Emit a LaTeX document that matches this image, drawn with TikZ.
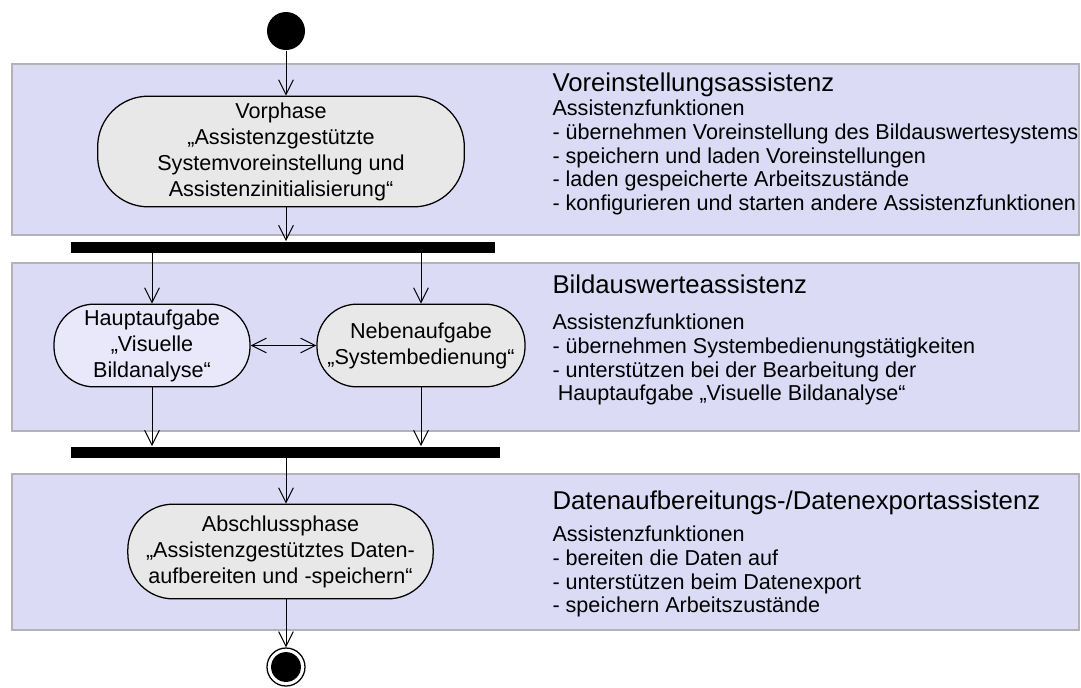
\documentclass[tikz,border=0pt]{standalone}
\usepackage{fontspec}
\setmainfont{Liberation Sans}
\usetikzlibrary{arrows.meta}
\definecolor{lanefill}{RGB}{219,219,246}
\definecolor{laneline}{RGB}{178,178,184}
\definecolor{actfill}{RGB}{232,232,232}
\definecolor{mainfill}{RGB}{232,232,250}
\tikzset{>={Straight Barb[length=11pt,width=11pt]},
  lane/.style={draw=laneline,fill=lanefill,line width=1.1pt,minimum width=800.25pt,inner sep=0},
  act/.style={draw,line width=0.95pt,fill=actfill,align=center,inner sep=0,font=\fontsize{16.2pt}{19.5pt}\selectfont},
  bar/.style={fill=black,inner sep=0,minimum height=8.25pt},
  ttl/.style={anchor=base west,inner sep=0,font=\fontsize{19.3pt}{23pt}\selectfont},
  lst/.style={anchor=north west,align=left,inner sep=0,font=\fontsize{16.2pt}{17.8pt}\selectfont},
  init/.style={circle,fill,inner sep=0,minimum size=28.5pt},
  final/.style={circle,draw,line width=0.95pt,inner sep=0,minimum size=28.5pt,
    path picture={\fill (path picture bounding box.center) circle (11.2pt);}}}

\begin{document}
\begin{tikzpicture}[x=0.75pt,y=-0.75pt,line width=0.75pt]
              \useasboundingbox (0,0) rectangle (1081,687);

              \node[lane,minimum height=128.25pt] (lane1) at (545.5,149.5) {};
              \node[lane,minimum height=126pt] (lane2) at (545.5,347) {};
              \node[lane,minimum height=117pt] (lane3) at (545.5,552) {};

              \node[init] (start) at (286,31) {};
              \node[act,minimum width=275pt,minimum height=83pt,rounded corners=38pt] (vor) at (281,151.5)
                {Vorphase\\„Assistenzgestützte\\Systemvoreinstellung und\\Assistenzinitialisierung“};
              \node[bar,minimum width=318pt] (fork) at (283,247) {};

              \node[act,fill=mainfill,minimum width=147pt,minimum height=62pt,rounded corners=30pt] (haupt) at (152,345.5)
                {Hauptaufgabe\\„Visuelle\\Bildanalyse“};
              \node[act,minimum width=156pt,minimum height=62pt,rounded corners=30pt] (neben) at (421,345.5)
                {Nebenaufgabe\\„Systembedienung“};
              \node[bar,minimum width=321.75pt] (join) at (285.5,452) {};

              \node[act,minimum width=229pt,minimum height=71pt,rounded corners=34pt] (abschl) at (280.5,551.5)
                {Abschlussphase\\„Assistenzgestütztes Daten-\\aufbereiten und -speichern“};
              \node[final] (stop) at (286,667) {};

              \node[ttl] (t1) at (552,91) {Voreinstellungsassistenz};
              \node[lst] (l1) at (552,99.4) {Assistenzfunktionen\\
                - übernehmen Voreinstellung des Bildauswertesystems\\
                - speichern und laden Voreinstellungen\\
                - laden gespeicherte Arbeitszustände\\
                - konfigurieren und starten andere Assistenzfunktionen};

              \node[ttl] (t2) at (552,293) {Bildauswerteassistenz};
              \node[lst] (l2) at (552,313.4) {Assistenzfunktionen\\
                - übernehmen Systembedienungstätigkeiten\\
                - unterstützen bei der Bearbeitung der\\
                \hspace*{4pt}Hauptaufgabe „Visuelle Bildanalyse“};

              \node[ttl] (t3) at (552,509) {Datenaufbereitungs-/Datenexportassistenz};
              \node[lst] (l3) at (552,525.4) {Assistenzfunktionen\\
                - bereiten die Daten auf\\
                - unterstützen beim Datenexport\\
                - speichern Arbeitszustände};

              \path[->]
              (start) edge (start |- vor.north)
              (vor.south -| start) edge (start |- fork.north)

              (fork.south -| haupt) edge (haupt)
              (fork.south -| neben) edge (neben)
              (haupt) edge [<->] (neben)
              (haupt) edge (haupt |- join.north)
              (neben) edge (neben |- join.north)

              (join.south -| start) edge (start |- abschl.north)
              (abschl.south -| start) edge (stop)
              ;
\end{tikzpicture}
\end{document}
